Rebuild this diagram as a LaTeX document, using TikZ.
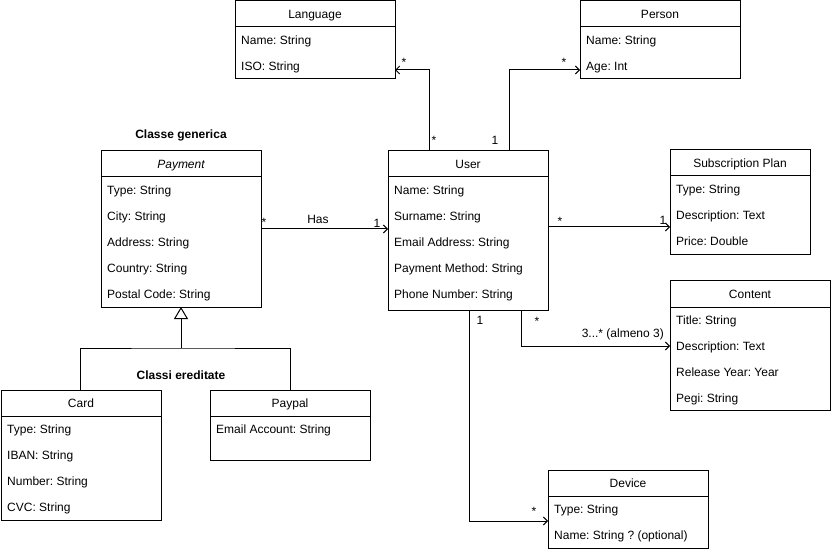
\documentclass[tikz,border=0pt]{standalone}
\usepackage{fontspec}
\setmainfont{Liberation Sans}
\usetikzlibrary{arrows.meta,calc}
\frenchspacing
\tikzset{
  cls/.style={draw=black, line width=1bp, inner sep=0pt, outer sep=0pt, anchor=north west, fill=white},
  sep/.style={draw=black, line width=1bp},
  ttl/.style={inner sep=0pt, anchor=base, font=\fontsize{12bp}{14bp}\selectfont},
  attr/.style={inner sep=0pt, anchor=base west, font=\fontsize{12bp}{14bp}\selectfont},
  lbl/.style={inner sep=0pt, anchor=base, font=\fontsize{12bp}{14bp}\selectfont},
  note/.style={inner sep=0pt, anchor=base, font=\fontsize{12bp}{14bp}\selectfont\bfseries},
  assoc/.style={draw=black, line width=1bp, -{Straight Barb[length=4bp,width=8bp,line width=1bp]}},
  plain/.style={draw=black, line width=1bp},
  inherit/.style={draw=black, line width=1bp, -{Triangle[open,length=12bp,width=14bp,line width=1bp]}}
}
\newcommand\classbox[7]{%
  \node[cls, minimum width=#4bp, minimum height=#5bp] (#1) at (#2,#3) {};
  \draw[sep] ($(#1.north west)+(0,26)$) -- ($(#1.north east)+(0,26)$);
  \node[ttl] at ($(#1.north)+(0,17.5)$) {#6};
  \foreach \r [count=\i] in {#7} {
    \node[attr] at ($(#1.north west)+(6,{17.5+26*\i})$) {\r};
  }
}
\begin{document}
\begin{tikzpicture}[x=1bp,y=-1bp]
\useasboundingbox (0,0) rectangle (831,552);

\classbox{lang}{235}{1}{160}{78}{Language}{Name: String, ISO: String}
\classbox{person}{580}{1}{160}{78}{Person}{Name: String, Age: Int}
\classbox{pay}{101}{151}{160}{156}{\itshape Payment}{Type: String, City: String, Address: String, Country: String, Postal Code: String}
\classbox{user}{388}{151}{160}{159}{User}{Name: String, Surname: String, Email Address: String, Payment Method: String, Phone Number: String}
\classbox{sub}{670}{150}{140}{104}{Subscription Plan}{Type: String, Description: Text, Price: Double}
\classbox{content}{670}{281}{160}{129}{Content}{Title: String, Description: Text, Release Year: Year, Pegi: String}
\classbox{device}{548}{470}{160}{78}{Device}{Type: String, Name: String ? (optional)}
\classbox{card}{1}{390}{160}{130}{Card}{Type: String, IBAN: String, Number: String, CVC: String}
\classbox{paypal}{210}{390}{160}{70}{Paypal}{Email Account: String}

% notes
\node[note] (n1) at (181,139) {Classe generica};
\node[note] (n2) at (181,379) {Classi ereditate};

% associations
\draw[assoc] ($(user.north west)+(41,0)$) |- ($(lang.north east)+(0,69)$);
\draw[assoc] ($(user.north west)+(121,0)$) |- ($(person.north west)+(0,69)$);
\draw[assoc] ($(pay.north east)+(0,78)$) -- ($(user.north west)+(0,78)$);
\draw[assoc] ($(user.north east)+(0,76)$) -- ($(sub.north west)+(0,77)$);
\draw[assoc] ($(user.south west)+(133,0)$) |- ($(content.north west)+(0,65)$);
\draw[assoc] ($(user.south west)+(81,0)$) |- ($(device.north west)+(0,51)$);

% inheritance
\coordinate (j) at ($(pay.south)+(0,41)$);
\draw[inherit] (j) -- (pay.south);
\draw[plain] ($(card.north west)+(79,0)$) |- (j) -| ($(paypal.north west)+(80,0)$);

% multiplicities
\node[lbl] (m1) at (404,67) {*};
\node[lbl] (m2) at (434,145) {*};
\node[lbl] (m3) at (495,145) {1};
\node[lbl] (m4) at (564,67) {*};
\node[lbl] (m5) at (264,227) {*};
\node[lbl] (m6) at (318,224) {Has};
\node[lbl] (m7) at (377,228) {1};
\node[lbl] (m8) at (560,226) {*};
\node[lbl] (m9) at (663,225) {1};
\node[lbl] (m10) at (537,326) {*};
\node[lbl, anchor=base east] (m11) at (664,337) {3...* (almeno 3)};
\node[lbl] (m12) at (480,325) {1};
\node[lbl] (m13) at (534,515) {*};
\end{tikzpicture}
\end{document}
